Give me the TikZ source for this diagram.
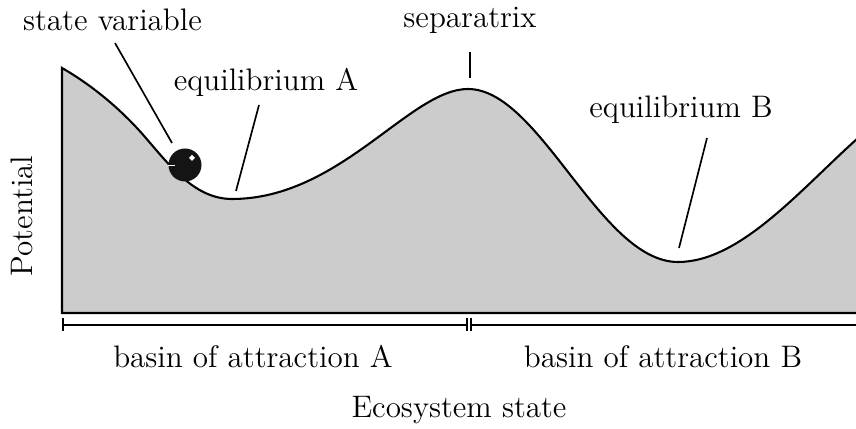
\documentclass[tikz,border=0pt]{standalone}
\usepackage{fontspec}
\begin{document}
\begin{tikzpicture}[x=0.36pt,y=-0.36pt,
  lbl/.style={inner sep=0pt, font=\fontsize{11.2}{13.4}\selectfont},
  leader/.style={line width=0.6pt},
  brk/.style={line width=0.6pt}]
\useasboundingbox (0,0) rectangle (856,429);
% landscape
\begin{scope}
\clip (0,0) rectangle (856,429);
\draw[fill=black!20, line width=0.75pt]
  (62,68) .. controls (90,84) and (120,108) .. (145,137)
  .. controls (170,166) and (195,199) .. (232,199)
  .. controls (340,199) and (410,89) .. (468,89)
  .. controls (540,89) and (600,262) .. (678,262)
  .. controls (740,262) and (800,190) .. (858,138)
  -- (858,313) -- (62,313) -- cycle;
\end{scope}
% ball
\node[circle, fill=black!92, minimum size=33*0.36pt, inner sep=0pt] (ball) at (185,165) {};
\fill[white] (192,155) -- (195,158) -- (192,161) -- (189,158) -- cycle;
\draw[white, line width=0.3pt] (168,165) -- (175,165);
% labels
\node[lbl] (sv) at (112.5,20) {state variable};
\node[lbl] (sep) at (470,20) {separatrix};
\node[lbl] (eqA) at (266,82) {equilibrium A};
\node[lbl] (eqB) at (681,110) {equilibrium B};
\node[lbl] (bA) at (253,357) {basin of attraction A};
\node[lbl] (bB) at (663,357) {basin of attraction B};
\node[lbl] (xl) at (459,410) {Ecosystem state};
\node[lbl, rotate=90] (yl) at (22,216) {Potential};
% leaders
\coordinate (svE) at (172,143);
\coordinate (svS) at (115,43);
\draw[leader] (svS) -- (svE);
\coordinate (eqAs) at (259,105);
\coordinate (eqAe) at (236,191);
\draw[leader] (eqAs) -- (eqAe);
\coordinate (eqBs) at (707,138);
\coordinate (eqBe) at (679,248);
\draw[leader] (eqBs) -- (eqBe);
\coordinate (sepS) at (470,52);
\coordinate (sepE) at (470,78);
\draw[leader] (sepS) -- (sepE);
% brackets
\coordinate (a1) at (62.7,325);
\coordinate (a2) at (467.3,325);
\coordinate (b1) at (471.3,325);
\coordinate (b2) at (858,325);
\draw[brk] (a1) -- (a2);
\draw[brk] (b1) -- (b2);
\draw[brk] ([yshift=-6*0.36pt]a1) -- ([yshift=7*0.36pt]a1);
\draw[brk] ([yshift=-6*0.36pt]a2) -- ([yshift=7*0.36pt]a2);
\draw[brk] ([yshift=-6*0.36pt]b1) -- ([yshift=7*0.36pt]b1);
\end{tikzpicture}
\end{document}
